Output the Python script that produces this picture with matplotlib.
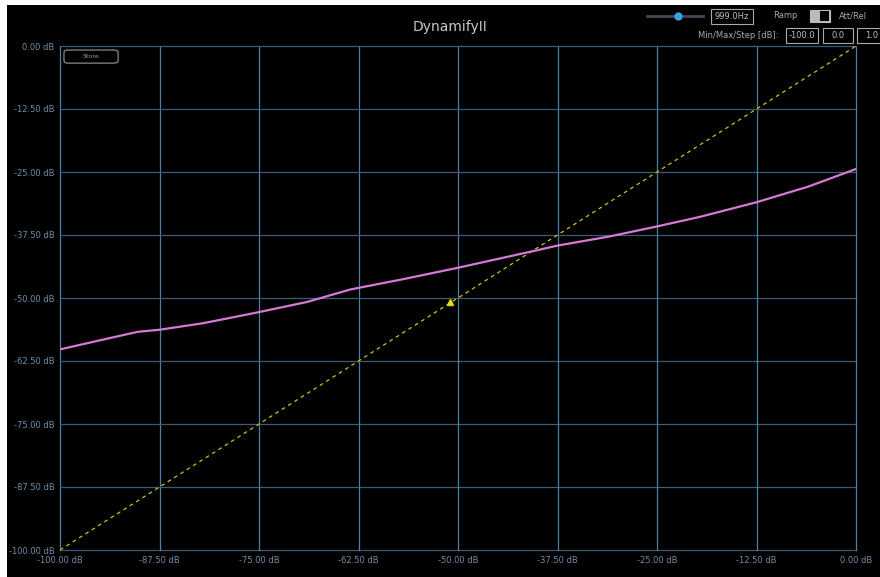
import numpy as np
import matplotlib.pyplot as plt
from matplotlib.patches import Rectangle, FancyBboxPatch

# measured response (input level -> output level), dB
level_in = [-100.0, -95.0, -90.2, -87.5, -82.0, -75.0, -69.0, -63.5, -57.0, -50.0,
            -44.0, -40.0, -37.5, -31.0, -25.0, -19.6, -12.5, -6.0, 0.0]
level_out = [-60.2, -58.4, -56.7, -56.3, -55.0, -52.8, -50.8, -48.3, -46.3, -44.0,
             -41.9, -40.5, -39.6, -37.8, -35.8, -33.9, -31.0, -27.9, -24.4]

# reference line (unity) and current operating point
ref_x = [-100.0, 0.0]
ref_y = [-100.0, 0.0]
point = (-51.0, -50.8)

ticks = np.arange(-100, 0.01, 12.5)

grid_v = '#4f80a6'
grid_h = '#3c5a70'
tick_col = '#6f8dab'

fig = plt.figure(figsize=(8.8, 5.77), dpi=100, facecolor='black')
# light margin on the left and top edges
fig.patches.append(Rectangle((0, 0), 7/880, 1, transform=fig.transFigure,
                             facecolor='white', edgecolor='none', zorder=-5))
fig.patches.append(Rectangle((0, 1 - 5/577), 1, 5/577, transform=fig.transFigure,
                             facecolor='white', edgecolor='none', zorder=-5))

ax = fig.add_axes([60/880, 1 - 550/577, 796/880, 504/577])
ax.set_facecolor('black')
ax.set_xlim(-100, 0)
ax.set_ylim(-100, 0)

for t in ticks:
    ax.axvline(t, color=grid_v, lw=0.9, zorder=1, clip_on=False)
    ax.axhline(t, color=grid_h, lw=0.9, zorder=1, clip_on=False)

for s in ax.spines.values():
    s.set_visible(False)

ax.set_xticks(ticks)
ax.set_yticks(ticks)
ax.set_xticklabels(['%.2f dB' % t for t in ticks])
ax.set_yticklabels(['%.2f dB' % t for t in ticks])
ax.tick_params(colors=tick_col, labelsize=6, length=0, pad=4)
for lab in ax.get_xticklabels() + ax.get_yticklabels():
    lab.set_color(tick_col)

ax.plot(ref_x, ref_y, color='#c8c800', lw=0.9, ls=(0, (3, 3)), zorder=2, clip_on=False)
ax.plot(level_in, level_out, color='#d47ad4', lw=1.6, zorder=3)
ax.plot(*point, marker='^', ms=4, color='#e0e000', zorder=4)

# store button
ax.add_patch(FancyBboxPatch((-99.5, -3.4), 6.8, 2.6, boxstyle='round,pad=0,rounding_size=0.5',
                            facecolor='black', edgecolor='#8a8a8a', lw=0.9, zorder=5))
ax.text(-96.1, -2.1, 'Store', color='#9a9a9a', fontsize=4.5, ha='center', va='center', zorder=6)

fig.text(450/880, 1 - 27/577, 'DynamifyII', color='#c8c8c8', fontsize=10,
         ha='center', va='center')


# header controls
def px(x, y):
    return x/880, 1 - y/577


fig.lines.append(plt.Line2D([647/880, 703/880], [1 - 16/577, 1 - 16/577],
                            transform=fig.transFigure, color='#3d4a58', lw=2))
fig.lines.append(plt.Line2D([678/880], [1 - 16/577], transform=fig.transFigure,
                            marker='o', ms=6, color='#3aa0e0', mec='none'))


def box(x, y, w, h, text):
    fig.patches.append(Rectangle(px(x, y + h), w/880, h/577, transform=fig.transFigure,
                                 facecolor='black', edgecolor='#aaaaaa', lw=0.8))
    fig.text(*px(x + w/2, y + h/2), text, color='#bbbbbb', fontsize=6,
             ha='center', va='center')


box(711, 9, 42, 15, '999.0Hz')
fig.text(*px(785, 16), 'Ramp', color='#aaaaaa', fontsize=6, ha='center', va='center')
fig.patches.append(Rectangle(px(810, 22), 20/880, 12/577, transform=fig.transFigure,
                             facecolor='#bbbbbb', edgecolor='#bbbbbb', lw=0.8))
fig.patches.append(Rectangle(px(820, 21), 9/880, 10/577, transform=fig.transFigure,
                             facecolor='black', edgecolor='none', zorder=2))
fig.text(*px(853, 16), 'Att/Rel', color='#aaaaaa', fontsize=6, ha='center', va='center')

fig.text(*px(698, 36), 'Min/Max/Step [dB]:', color='#aaaaaa', fontsize=6, ha='left', va='center')
box(786, 28, 32, 15, '-100.0')
box(823, 28, 30, 15, '0.0')
box(857, 28, 30, 15, '1.0')

fig.savefig('out.png', dpi=100, facecolor=fig.get_facecolor())
